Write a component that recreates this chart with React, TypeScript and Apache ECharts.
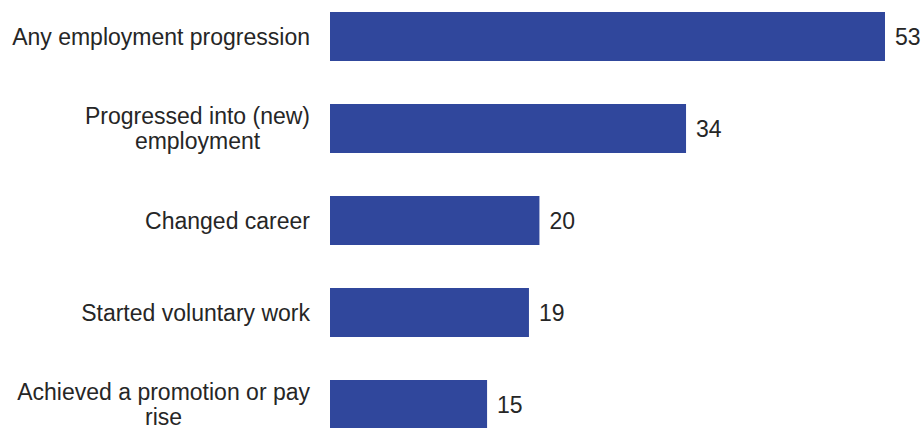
import React, { useEffect, useRef } from "react";
import * as echarts from "echarts";

const categories = [
  "Any employment progression",
  "Progressed into (new)\nemployment",
  "Changed career",
  "Started voluntary work",
  "Achieved a promotion or pay\nrise",
];
const values = [53, 34, 20, 19, 15];

export default function App() {
  const ref = useRef<HTMLDivElement>(null);
  useEffect(() => {
    if (!ref.current) return;
    const chart = echarts.init(ref.current, undefined, { renderer: "svg" });
    chart.setOption({
      animation: false,
      grid: { left: 330, width: 555, top: 0.5, height: 460 },
      xAxis: { type: "value", min: 0, max: 53, show: false },
      yAxis: {
        type: "category",
        data: categories,
        inverse: true,
        axisLine: { show: false },
        axisTick: { show: false },
        axisLabel: {
          margin: 20,
          fontFamily: "Liberation Sans",
          fontSize: 23,
          color: "#262626",
          formatter: (v: string) =>
            v
              .split("\n")
              .map((l) => `{c|${l}}`)
              .join("\n"),
          rich: {
            c: {
              align: "center",
              fontFamily: "Liberation Sans",
              fontSize: 23,
              color: "#262626",
              lineHeight: 25,
            },
          },
        },
      },
      series: [
        {
          type: "bar",
          data: values,
          barWidth: 49,
          itemStyle: { color: "#30479c" },
          label: {
            show: true,
            position: "right",
            distance: 10,
            fontFamily: "Liberation Sans",
            fontSize: 23,
            color: "#262626",
          },
        },
      ],
    });
    return () => chart.dispose();
  }, []);
  return (
    <div
      ref={ref}
      style={{ position: "absolute", left: 0, top: -10, width: 923, height: 470 }}
    />
  );
}
